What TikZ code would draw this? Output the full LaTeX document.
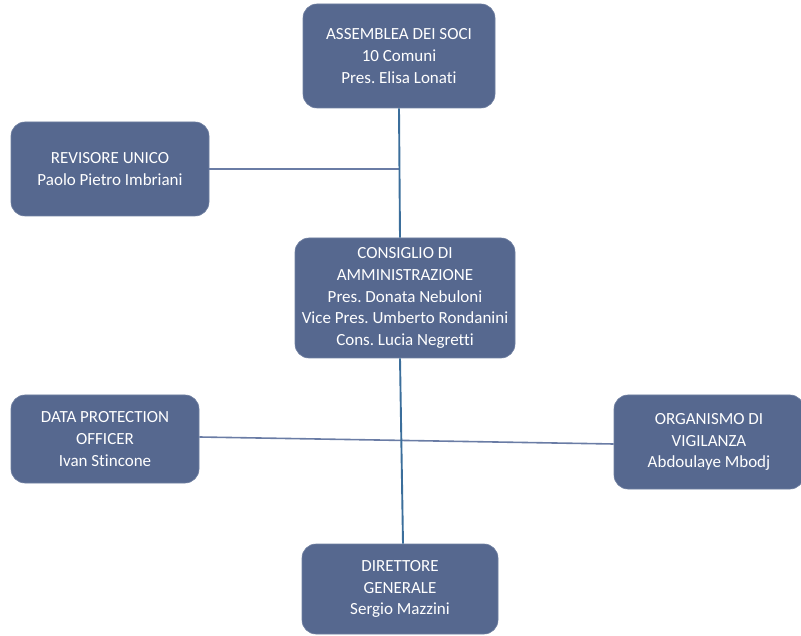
\documentclass[tikz,border=0pt]{standalone}
\usepackage{fontspec}
\setmainfont[Ligatures=NoCommon]{Carlito}
\frenchspacing
\usetikzlibrary{calc}
\definecolor{boxfill}{HTML}{56688F}
\definecolor{vline}{HTML}{3B6E9B}
\definecolor{hline}{HTML}{6A7CA5}
\tikzset{
  orgbox/.style={draw=boxfill!85!white, line width=0.6pt, fill=boxfill, rounded corners=14pt,
    text=white, align=center, font=\fontsize{17}{21.6}\selectfont, inner sep=0pt},
  vconn/.style={draw=vline, line width=1.9pt},
  hconn/.style={draw=hline, line width=1.6pt}
}
\begin{document}
\begin{tikzpicture}[x=1pt,y=-1pt]
\useasboundingbox (0,0) rectangle (801,636);
\node[orgbox, minimum width=192pt, minimum height=104pt] (ass) at (399,56)
  {ASSEMBLEA DEI SOCI\\10 Comuni\\Pres. Elisa Lonati};
\node[orgbox, minimum width=198pt, minimum height=94pt] (rev) at (110,169)
  {REVISORE UNICO\\Paolo Pietro Imbriani};
\node[orgbox, minimum width=220pt, minimum height=120pt] (cons) at (405,298)
  {CONSIGLIO DI\\AMMINISTRAZIONE\\Pres. Donata Nebuloni\\Vice Pres. Umberto Rondanini\\Cons. Lucia Negretti};
\node[orgbox, minimum width=188pt, minimum height=88pt] (dpo) at (105,439)
  {DATA PROTECTION\\OFFICER\\Ivan Stincone};
\node[orgbox, minimum width=190pt, minimum height=94pt] (org) at (709,442)
  {ORGANISMO DI\\VIGILANZA\\Abdoulaye Mbodj};
\node[orgbox, minimum width=196pt, minimum height=90pt] (dir) at (400,589)
  {DIRETTORE\\GENERALE\\Sergio Mazzini};
\coordinate (j1) at (rev.east -| ass.south);
\draw[hconn] (rev.east) -- (j1);
\draw[vconn] (ass.south) -- ($(cons.north)+(-5,0)$);
\draw[hconn] ($(dpo.east)+(0,-2)$) -- ($(org.west)+(0,2)$);
\draw[vconn] ($(cons.south)+(-5,0)$) -- ($(dir.north)+(3,0)$);
\end{tikzpicture}
\end{document}
